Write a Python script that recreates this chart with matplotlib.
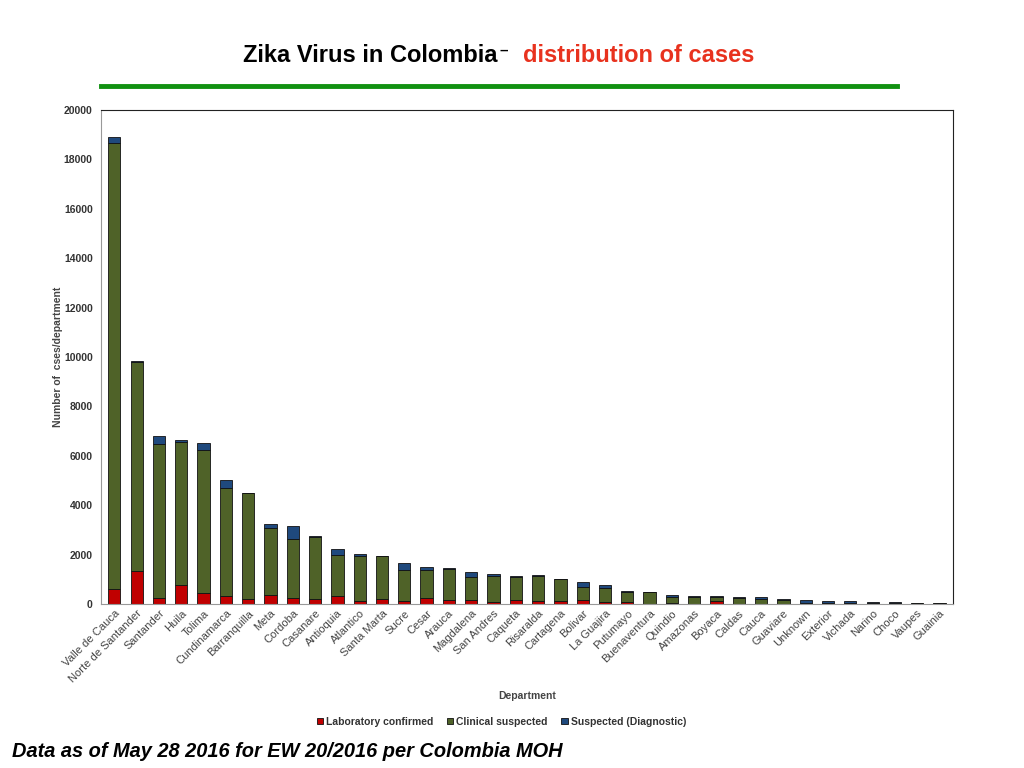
import numpy as np
import matplotlib
matplotlib.use('Agg')
import matplotlib.pyplot as plt
from matplotlib.lines import Line2D

plt.rcParams['font.family'] = ['Liberation Sans', 'DejaVu Sans']

# departamentos y casos
departments = ['Valle de Cauca', 'Norte de Santander', 'Santander', 'Huila', 'Tolima',
               'Cundinamarca', 'Barranquilla', 'Meta', 'Cordoba', 'Casanare', 'Antioquia',
               'Atlantico', 'Santa Marta', 'Sucre', 'Cesar', 'Arauca', 'Magdalena',
               'San Andres', 'Caqueta', 'Risaralda', 'Cartagena', 'Bolivar', 'La Guajira',
               'Putumayo', 'Buenaventura', 'Quindio', 'Amazonas', 'Boyaca', 'Caldas',
               'Cauca', 'Guaviare', 'Unknown', 'Exterior', 'Vichada', 'Narino', 'Choco',
               'Vaupes', 'Guainia']
lab_confirmed = [600, 1350, 260, 770, 430, 320, 190, 350, 230, 190, 320, 120, 190,
                 120, 240, 160, 160, 80, 160, 120, 120, 160, 100, 100, 0, 30, 20, 120,
                 20, 20, 10, 0, 0, 0, 0, 0, 0, 0]
clinical_suspected = [18050, 8450, 6230, 5780, 5790, 4390, 4290, 2710, 2420, 2520, 1650,
                      1810, 1740, 1240, 1120, 1260, 920, 1070, 930, 1000, 890, 530, 550,
                      390, 470, 270, 250, 150, 240, 190, 140, 30, 60, 60, 60, 60, 40, 30]
suspected_diag = [250, 50, 290, 80, 300, 320, 0, 180, 520, 60, 240, 80, 0, 290, 150,
                  50, 200, 50, 60, 50, 0, 190, 120, 50, 0, 60, 50, 70, 40, 60, 40, 130,
                  80, 50, 40, 40, 20, 20]

lab = np.array(lab_confirmed)
clin = np.array(clinical_suspected)
diag = np.array(suspected_diag)
x = np.arange(len(departments))

fig = plt.figure(figsize=(10.24, 7.68), dpi=100)
ax = fig.add_axes([0.0986, 0.2135, 0.832, 0.6435])

w = 0.55
kw = dict(width=w, edgecolor='#111111', linewidth=0.6)
ax.bar(x, lab, color='#C00000', label='Laboratory confirmed', **kw)
ax.bar(x, clin, bottom=lab, color='#4F6228', label='Clinical suspected', **kw)
ax.bar(x, diag, bottom=lab + clin, color='#1F497D', label='Suspected (Diagnostic)', **kw)

ax.set_xlim(-0.6, len(departments) - 0.4)
ax.set_ylim(0, 20000)
ax.set_yticks(np.arange(0, 20001, 2000))
ax.tick_params(axis='y', labelsize=7.5, colors='#333333', length=0, pad=6)
ax.tick_params(axis='x', length=0, pad=3)
ax.set_xticks(x)
ax.set_xticklabels(departments, rotation=45, ha='right', rotation_mode='anchor',
                   fontsize=8, color='#444444')
for t in ax.get_yticklabels():
    t.set_fontweight('bold')
for s in ['left', 'bottom']:
    ax.spines[s].set_color('#999999')
for s in ['top', 'right']:
    ax.spines[s].set_color('#222222')
    ax.spines[s].set_linewidth(0.8)

ax.set_ylabel('Number of  cses/department', fontsize=7.5, fontweight='bold', color='#444444')
ax.yaxis.set_label_coords(-0.045, 0.5)
ax.set_xlabel('Department', fontsize=7.5, fontweight='bold', color='#444444')
ax.xaxis.set_label_coords(0.5, -0.176)

leg = ax.legend(loc='upper center', bbox_to_anchor=(0.47, -0.209), ncol=3, frameon=False,
                fontsize=7.5, handlelength=0.6, handleheight=0.6, handletextpad=0.3,
                columnspacing=1.3)
for t in leg.get_texts():
    t.set_color('#333333')
    t.set_fontweight('bold')

# titulo
fig.text(0.237, 0.928, 'Zika Virus in Colombia', fontsize=17, fontweight='bold',
         color='black', va='center', ha='left')
fig.text(0.488, 0.934, '\u2013', fontsize=11, fontweight='bold', color='black',
         va='center', ha='left')
fig.text(0.511, 0.928, 'distribution of cases', fontsize=17, fontweight='bold',
         color='#E8321E', va='center', ha='left')
fig.add_artist(Line2D([0.099, 0.876], [0.888, 0.888], color='#119111', linewidth=3.5))

fig.text(0.012, 0.022, 'Data as of May 28 2016 for EW 20/2016 per Colombia MOH',
         fontsize=14.4, fontweight='bold', fontstyle='italic', color='black',
         va='center', ha='left')

fig.savefig('out.png', dpi=100)
